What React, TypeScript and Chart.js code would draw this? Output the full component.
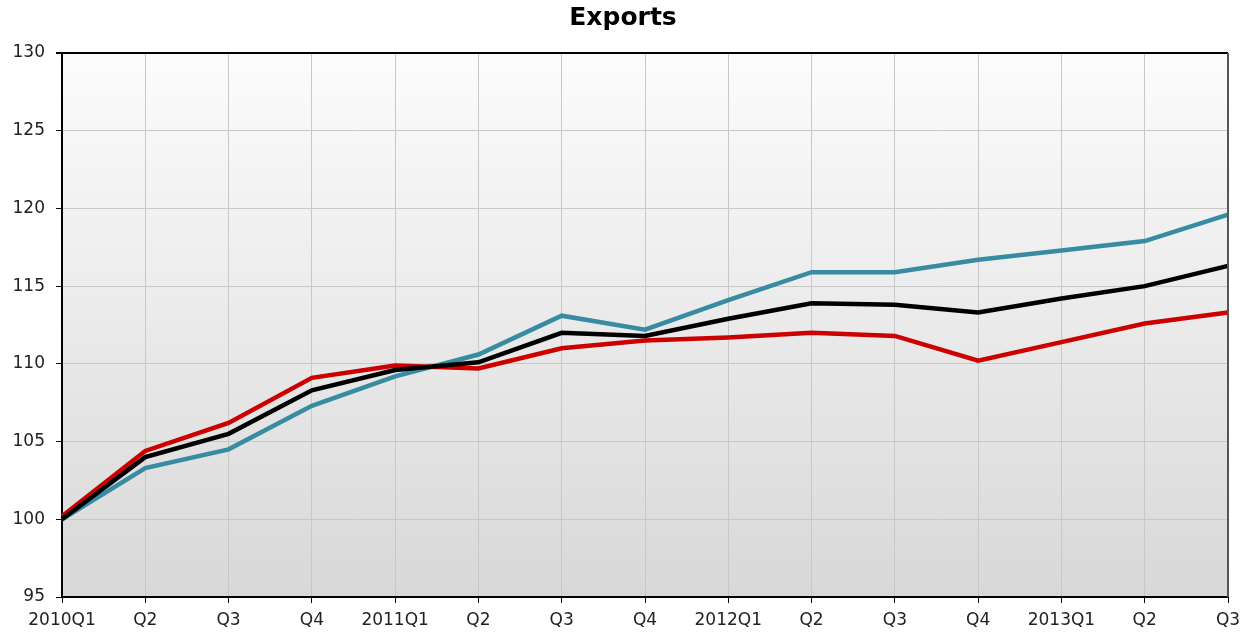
import React, { useEffect, useRef } from "react";
import { Chart, registerables } from "chart.js";

Chart.register(...registerables);

const categories = ["2010Q1", "Q2", "Q3", "Q4", "2011Q1", "Q2", "Q3", "Q4", "2012Q1", "Q2", "Q3", "Q4", "2013Q1", "Q2", "Q3"];
const blackSeries = [100.0, 104.0, 105.5, 108.3, 109.6, 110.1, 112.0, 111.8, 112.9, 113.9, 113.8, 113.3, 114.2, 115.0, 116.3];
const redSeries = [100.2, 104.4, 106.2, 109.1, 109.9, 109.7, 111.0, 111.5, 111.7, 112.0, 111.8, 110.2, 111.4, 112.6, 113.3];
const blueSeries = [100.0, 103.3, 104.5, 107.3, 109.2, 110.6, 113.1, 112.2, 114.1, 115.9, 115.9, 116.7, 117.3, 117.9, 119.6];
const yMin = 95;
const yMax = 130;
const yStep = 5;
const titleText = "Exports";

const bgPlugin = {
  id: "bgPlugin",
  beforeDraw(chart: any) {
    const { ctx, chartArea } = chart;
    if (!chartArea) return;
    const g = ctx.createLinearGradient(0, chartArea.top, 0, chartArea.bottom);
    g.addColorStop(0, "#fcfcfc");
    g.addColorStop(1, "#d8d8d8");
    ctx.save();
    ctx.fillStyle = g;
    ctx.fillRect(chartArea.left, chartArea.top, chartArea.right - chartArea.left, chartArea.bottom - chartArea.top);
    ctx.restore();
  },
  afterDraw(chart: any) {
    const { ctx, chartArea } = chart;
    if (!chartArea) return;
    ctx.save();
    ctx.strokeStyle = "#000";
    ctx.lineWidth = 2;
    ctx.beginPath();
    ctx.moveTo(chartArea.left - 6, chartArea.top);
    ctx.lineTo(chartArea.right, chartArea.top);
    ctx.stroke();
    ctx.strokeStyle = "#555";
    ctx.lineWidth = 2;
    ctx.beginPath();
    ctx.moveTo(chartArea.right, chartArea.top);
    ctx.lineTo(chartArea.right, chartArea.bottom);
    ctx.stroke();
    ctx.fillStyle = "#000";
    ctx.font = "bold 25px 'DejaVu Sans', Verdana, sans-serif";
    ctx.textAlign = "center";
    ctx.textBaseline = "alphabetic";
    ctx.fillText(titleText, 623, 25);
    ctx.restore();
  },
};

export default function App() {
  const ref = useRef<HTMLCanvasElement>(null);
  useEffect(() => {
    if (!ref.current) return;
    const font = { family: "'DejaVu Sans', Verdana, sans-serif", size: 17 };
    const chart = new Chart(ref.current, {
      type: "line",
      data: {
        labels: categories,
        datasets: [
          { label: "Black", data: blackSeries, borderColor: "#000000", borderWidth: 4.5, pointRadius: 0, tension: 0, fill: false },
          { label: "Red", data: redSeries, borderColor: "#cc0000", borderWidth: 4.5, pointRadius: 0, tension: 0, fill: false },
          { label: "Blue", data: blueSeries, borderColor: "#378ca1", borderWidth: 4.5, pointRadius: 0, tension: 0, fill: false },
        ],
      },
      options: {
        animation: false,
        responsive: true,
        maintainAspectRatio: false,
        layout: { padding: { left: 0, right: 24, top: 53, bottom: 0 } },
        plugins: {
          legend: { display: false },
          tooltip: { enabled: false },
          title: { display: false },
        },
        scales: {
          x: {
            type: "category",
            offset: false,
            grid: { color: "#c8c8c8", lineWidth: 1, tickColor: "#000", tickLength: 6, drawTicks: true },
            border: { color: "#000", width: 2 },
            ticks: { color: "#222", font, padding: 7, maxRotation: 0, autoSkip: false },
            afterFit(scale: any) { scale.height = 40; },
          },
          y: {
            min: yMin,
            max: yMax,
            grid: { color: "#c8c8c8", lineWidth: 1, tickColor: "#000", tickLength: 6 },
            border: { color: "#000", width: 2 },
            ticks: { stepSize: yStep, color: "#222", font, padding: 11 },
            afterFit(scale: any) { scale.width = 62; },
          },
        },
      },
      plugins: [bgPlugin],
    });
    return () => chart.destroy();
  }, []);
  return (
    <div style={{ position: "fixed", left: 0, top: 0, width: 1252, height: 637, background: "#fff" }}>
      <canvas ref={ref} />
    </div>
  );
}
